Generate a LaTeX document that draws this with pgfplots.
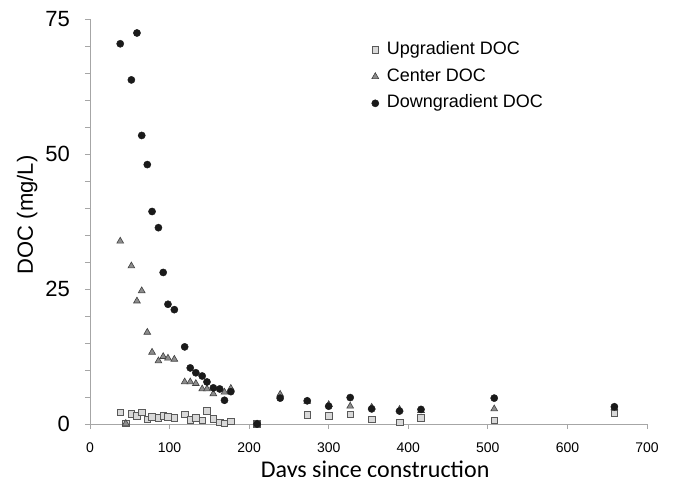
\documentclass[border=0pt]{standalone}
\usepackage{fontspec}
\setmainfont{Liberation Sans}
\newfontfamily\carlito{Carlito}
\usepackage{pgfplots}
\pgfplotsset{compat=1.18}

\definecolor{axisgray}{HTML}{A6A6A6}
\definecolor{sqfill}{HTML}{D9D9D9}
\definecolor{sqedge}{HTML}{595959}
\definecolor{trifill}{HTML}{8C8C8C}
\definecolor{triedge}{HTML}{404040}
\definecolor{dotfill}{HTML}{1A1A1A}

\begin{document}
\begin{tikzpicture}
\path[use as bounding box] (-90bp,-53bp) rectangle (583bp,424bp);
\begin{axis}[
    at={(0,0)}, anchor=south west,
    scale only axis,
    width=557bp, height=404.5bp,
    xmin=0, xmax=700, ymin=0, ymax=75,
    axis lines*=left,
    axis line style={draw=axisgray, line width=0.8bp},
    every tick/.style={draw=axisgray, line width=0.8bp},
    tick align=outside,
    major tick length=5bp, minor tick length=5bp,
    xtick={0,100,...,700},
    ytick={0,25,50,75},
    minor ytick={5,10,15,20,30,35,40,45,55,60,65,70},
    /pgf/number format/assume math mode=true,
    xticklabel style={font=\fontsize{14bp}{16bp}\selectfont, inner sep=0pt, yshift=-13.5bp},
    yticklabel style={font=\fontsize{22bp}{24bp}\selectfont, inner sep=0pt, xshift=-15bp},
    xlabel={\carlito Days since construction},
    ylabel={DOC (mg/L)},
    every axis x label/.style={at={(axis description cs:0.512,0)}, anchor=north, inner sep=0pt, yshift=-37bp, font=\fontsize{24bp}{27bp}\selectfont},
    every axis y label/.style={at={(axis description cs:0,0.517)}, anchor=center, rotate=90, yshift=62.7bp, font=\fontsize{22bp}{24bp}\selectfont},
    clip=false,
    legend image code/.code={\draw[#1] plot coordinates {(0.1cm,0cm)};},
    legend cell align=left,
    legend style={at={(axis description cs:0.5,0.95)}, anchor=north west, draw=none, fill=none,
        font=\fontsize{18bp}{20bp}\selectfont,
        nodes={inner sep=0pt, text height=12.5bp, text depth=3.5bp},
        row sep=10.7bp, column sep=0pt,
        /tikz/every odd column/.append style={column sep=8bp}},
]
\addplot[only marks, mark=square*, mark size=3.3bp, mark options={fill=sqfill, draw=sqedge, line width=0.6bp}] coordinates {
(38,2.2) (45,0.1) (52,1.9) (59,1.5) (65,2.2) (72,0.9) (78,1.3) (86,1.2) (92,1.5) (98,1.3)
(106,1.2) (119,1.8) (126,0.8) (133,1.1) (141,0.7) (147,2.5) (155,1.0) (163,0.3) (169,0.1) (177,0.5)
(210,0) (273,1.7) (300,1.5) (327,1.8) (354,0.9) (389,0.3) (416,1.1) (508,0.7) (659,2.0)
};
\addlegendentry{Upgradient DOC}
\addplot[only marks, mark=triangle*, mark size=3.9bp, mark options={fill=trifill, draw=triedge, line width=0.6bp}] coordinates {
(38,33.9) (45,0.1) (52,29.3) (59,22.8) (65,24.7) (72,17.0) (78,13.3) (86,11.7) (92,12.5) (98,12.2)
(106,12.0) (119,7.8) (126,7.8) (133,7.5) (141,6.5) (147,6.5) (155,5.6) (169,5.9) (177,6.6)
(210,0) (239,5.5) (273,4.2) (300,3.6) (327,3.3) (354,3.1) (389,2.7) (416,2.5) (508,2.8) (659,3.0)
};
\addlegendentry{Center DOC}
\addplot[only marks, mark=*, mark size=3.6bp, mark options={fill=dotfill, draw=dotfill}] coordinates {
(38,70.5) (52,63.8) (59,72.5) (65,53.5) (72,48.1) (78,39.4) (86,36.4) (92,28.1) (98,22.2) (106,21.2)
(119,14.3) (126,10.4) (133,9.5) (141,8.9) (147,7.8) (155,6.7) (163,6.5) (169,4.4) (177,6.0)
(210,0) (239,4.8) (273,4.3) (300,3.3) (327,4.9) (354,2.8) (389,2.4) (416,2.7) (508,4.8) (659,3.2)
};
\addlegendentry{Downgradient DOC}
\end{axis}
\end{tikzpicture}
\end{document}
